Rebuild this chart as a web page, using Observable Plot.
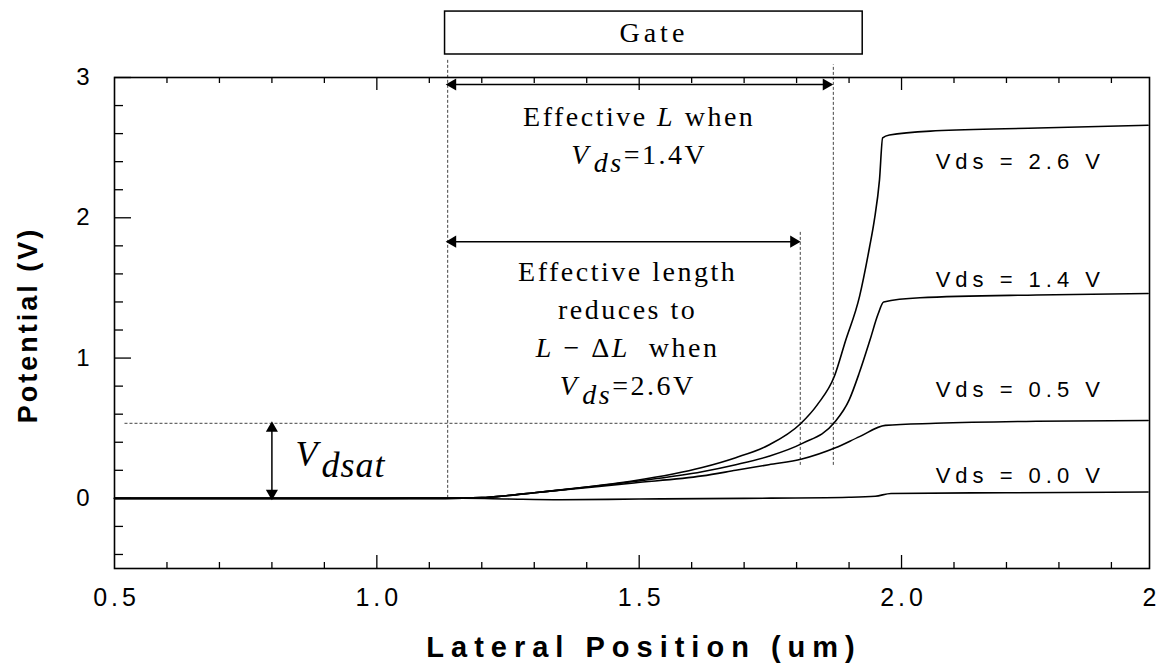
<!DOCTYPE html>
<html>
<head>
<meta charset="utf-8">
<script src="https://cdn.jsdelivr.net/npm/d3@7"></script>
<script src="https://cdn.jsdelivr.net/npm/@observablehq/plot@0.6"></script>
<style>
  html, body { margin: 0; padding: 0; background: #fff; }
  #chart { width: 1160px; height: 666px; overflow: hidden; }
  #chart svg { display: block; }
</style>
</head>
<body>
<div id="chart"></div>
<script>
// ---------------- data ----------------
const seriesNames = ["Vds = 0.0 V", "Vds = 0.5 V", "Vds = 1.4 V", "Vds = 2.6 V"];

const vds00X = [0.5, 1.0, 1.13, 1.25, 1.35, 1.5, 1.7, 1.9, 1.95, 1.98, 2.2, 2.47];
const vds00Y = [0, 0, 0.003, -0.005, -0.01, -0.005, 0.0, 0.008, 0.015, 0.035, 0.04, 0.045];

const vds05X = [0.5, 1.13, 1.2, 1.25, 1.3, 1.364, 1.49, 1.62, 1.684, 1.747, 1.81, 1.874, 1.92, 1.969, 2.065, 2.257, 2.47];
const vds05Y = [0, 0, 0.005, 0.02, 0.04, 0.064, 0.11, 0.16, 0.20, 0.24, 0.28, 0.36, 0.44, 0.52, 0.535, 0.55, 0.555];

const vds14X = [0.5, 1.13, 1.2, 1.25, 1.3, 1.364, 1.49, 1.62, 1.684, 1.747, 1.81, 1.872, 1.9, 1.92, 1.94, 1.955, 1.966, 2.035, 2.257, 2.47];
const vds14Y = [0, 0, 0.005, 0.02, 0.04, 0.065, 0.12, 0.19, 0.24, 0.30, 0.39, 0.54, 0.70, 0.90, 1.13, 1.31, 1.40, 1.43, 1.45, 1.46];

const vds26X = [0.5, 1.13, 1.2, 1.25, 1.3, 1.364, 1.49, 1.62, 1.684, 1.747, 1.807, 1.84, 1.872, 1.893, 1.92, 1.939, 1.948, 1.958, 1.964, 1.977, 2.065, 2.26, 2.47];
const vds26Y = [0, 0, 0.005, 0.02, 0.04, 0.066, 0.125, 0.22, 0.29, 0.38, 0.53, 0.67, 0.87, 1.12, 1.44, 1.79, 1.98, 2.27, 2.57, 2.59, 2.62, 2.64, 2.66];

const labelX = [2.065, 2.065, 2.065, 2.065];
const labelY = [0.157, 0.77, 1.554, 2.395];

const xTickValues = [0.5, 1.0, 1.5, 2.0, 2.5];
const xTickLabels = ["0.5", "1.0", "1.5", "2.0", "2.5"];
const xMajorTicks = [1.0, 1.5, 2.0];
const xMinorTicks = [0.6, 0.7, 0.8, 0.9, 1.1, 1.2, 1.3, 1.4, 1.6, 1.7, 1.8, 1.9, 2.1, 2.2, 2.3, 2.4];
const yTickValues = [0, 1, 2, 3];
const yTickLabels = ["0", "1", "2", "3"];
const yMinorTicks = [-0.4, -0.2, 0.2, 0.4, 0.6, 0.8, 1.2, 1.4, 1.6, 1.8, 2.2, 2.4, 2.6, 2.8];

// gate box
const gateX1 = [1.13];
const gateX2 = [1.926];
const gateY1 = [3.164];
const gateY2 = [3.47];
const gateText = ["Gate"];

// dashed guide lines
const guideVX = [1.135, 1.870, 1.807];
const guideVY1 = [0, 0.235, 0.235];
const guideVY2 = [3.13, 3.09, 1.91];
const guideHY = [0.535];
const guideHX1 = [0.52];
const guideHX2 = [1.96];

// horizontal double arrows
const arrowY = [2.95, 1.83];
const arrowX1 = [1.135, 1.135];
const arrowX2 = [1.866, 1.804];
// vertical double arrow (Vdsat)
const vArrowX = [0.80];
const vArrowY1 = [0];
const vArrowY2 = [0.535];

// annotation texts (markup: *italic*, _italic subscript_)
const annText = ["Effective *L* when", "*V*_ds_=1.4V", "Effective length", "reduces to", "*L* − Δ*L*  when", "*V*_ds_=2.6V"];
const annX = [1.50, 1.50, 1.478, 1.478, 1.478, 1.478];
const annY = [2.72, 2.45, 1.61, 1.34, 1.07, 0.80];
const vdsatText = ["*V*_dsat_"];
const vdsatX = [0.845];
const vdsatY = [0.31];

const xTitle = ["Lateral Position (um)"];
const yTitle = ["Potential (V)"];

// ---------------- build ----------------
const curveRows = [];
[[vds00X, vds00Y], [vds05X, vds05Y], [vds14X, vds14Y], [vds26X, vds26Y]].forEach(([xs, ys], k) => {
  xs.forEach((x, i) => curveRows.push({series: seriesNames[k], x, y: ys[i]}));
});

const W = 1160, H = 666;
const mL = 114, mR = 11, mT = 77, mB = 98;
const FW = W - mL - mR, FH = H - mT - mB;

const SERIF = "'Liberation Serif', 'Times New Roman', Times, serif";
const SANS = "'Liberation Sans', Arial, Helvetica, sans-serif";

const plot = Plot.plot({
  width: W,
  height: H,
  marginLeft: mL,
  marginRight: mR,
  marginTop: mT,
  marginBottom: mB,
  x: {domain: [0.5, 2.4726], axis: null},
  y: {domain: [-0.5, 3], axis: null},
  style: {background: "#fff", color: "#000", fontFamily: SANS},
  marks: [
    // dashed guides
    Plot.ruleX(guideVX, {x: d => d, y1: (d, i) => guideVY1[i], y2: (d, i) => guideVY2[i], stroke: "#444", strokeWidth: 1, strokeDasharray: "3,2"}),
    Plot.ruleY(guideHY, {y: d => d, x1: (d, i) => guideHX1[i], x2: (d, i) => guideHX2[i], stroke: "#444", strokeWidth: 1, strokeDasharray: "3,2"}),
    // curves
    Plot.line(curveRows, {x: "x", y: "y", z: "series", stroke: "#000", strokeWidth: 1.6, curve: "monotone-x"}),
    // frame and ticks
    Plot.frame({stroke: "#000", strokeWidth: 1.6}),
    Plot.ruleX(xMinorTicks, {x: d => d, insetTop: FH - 6, stroke: "#000", strokeWidth: 1.3}),
    Plot.ruleX(xMajorTicks, {x: d => d, insetTop: FH - 13, stroke: "#000", strokeWidth: 1.3}),
    Plot.ruleX(xMinorTicks, {x: d => d, insetBottom: FH - 6, stroke: "#000", strokeWidth: 1.3}),
    Plot.ruleX(xMajorTicks, {x: d => d, insetBottom: FH - 13, stroke: "#000", strokeWidth: 1.3}),
    Plot.ruleY(yMinorTicks, {y: d => d, insetRight: FW - 9, stroke: "#000", strokeWidth: 1.3}),
    Plot.ruleY(yTickValues, {y: d => d, insetRight: FW - 17, stroke: "#000", strokeWidth: 1.3}),
    // tick labels
    Plot.text(xTickValues, {x: d => d, text: (d, i) => xTickLabels[i], frameAnchor: "bottom", lineAnchor: "middle", textAnchor: "middle", dy: 29, dx: 2, fontSize: 25, fontFamily: SANS, fill: "#000"}),
    Plot.text(yTickValues, {y: d => d, text: (d, i) => yTickLabels[i], frameAnchor: "left", lineAnchor: "middle", dx: -25, textAnchor: "end", fontSize: 24, fontFamily: SANS, fill: "#000"}),
    // axis titles
    Plot.text(xTitle, {frameAnchor: "bottom", lineAnchor: "middle", textAnchor: "middle", dy: 79, dx: 12, fontSize: 29, fontWeight: "bold", fontFamily: SANS, fill: "#000"}),
    Plot.text(yTitle, {frameAnchor: "left", lineAnchor: "middle", textAnchor: "middle", dx: -86, dy: 2, rotate: -90, fontSize: 27, fontWeight: "bold", fontFamily: SANS, fill: "#000"}),
    // gate box
    Plot.rect(gateText, {x1: (d, i) => gateX1[i], x2: (d, i) => gateX2[i], y1: (d, i) => gateY1[i], y2: (d, i) => gateY2[i], fill: "none", stroke: "#000", strokeWidth: 1.5}),
    Plot.text(gateText, {x: (d, i) => (gateX1[i] + gateX2[i]) / 2, y: (d, i) => (gateY1[i] + gateY2[i]) / 2, fontSize: 28, fontFamily: SERIF, fill: "#000"}),
    // horizontal double arrows
    Plot.link(arrowY, {x1: (d, i) => arrowX1[i], x2: (d, i) => arrowX2[i], y1: d => d, y2: d => d, stroke: "#000", strokeWidth: 1.5}),
    Plot.dot(arrowY, {x: (d, i) => arrowX1[i], y: d => d, symbol: "triangle", rotate: -90, r: 4.5, dx: 5, fill: "#000", stroke: "none"}),
    Plot.dot(arrowY, {x: (d, i) => arrowX2[i], y: d => d, symbol: "triangle", rotate: 90, r: 4.5, dx: -5, fill: "#000", stroke: "none"}),
    // vertical double arrow
    Plot.link(vArrowX, {x1: d => d, x2: d => d, y1: (d, i) => vArrowY1[i], y2: (d, i) => vArrowY2[i], stroke: "#000", strokeWidth: 1.5}),
    Plot.dot(vArrowX, {x: d => d, y: (d, i) => vArrowY2[i], symbol: "triangle", rotate: 0, r: 4.5, dy: 5, fill: "#000", stroke: "none"}),
    Plot.dot(vArrowX, {x: d => d, y: (d, i) => vArrowY1[i], symbol: "triangle", rotate: 180, r: 4.5, dy: -5, fill: "#000", stroke: "none"}),
    // annotations
    Plot.text(annText, {x: (d, i) => annX[i], y: (d, i) => annY[i], fontSize: 28, fontFamily: SERIF, fill: "#000"}),
    Plot.text(vdsatText, {x: (d, i) => vdsatX[i], y: (d, i) => vdsatY[i], textAnchor: "start", fontSize: 36, fontFamily: SERIF, fill: "#000"}),
    // series labels
    Plot.text(seriesNames, {x: (d, i) => labelX[i], y: (d, i) => labelY[i], textAnchor: "start", fontSize: 22, fontFamily: SANS, fill: "#000"})
  ]
});

document.getElementById("chart").appendChild(plot);

// ---------------- text styling (letter spacing, italic, subscripts) ----------------
const spacingFor = new Map();
xTickLabels.forEach(s => spacingFor.set(s, 4));
seriesNames.forEach(s => spacingFor.set(s, 5));
annText.forEach(s => spacingFor.set(s, 2.5));
vdsatText.forEach(s => spacingFor.set(s, 1));
gateText.forEach(s => spacingFor.set(s, 4));
xTitle.forEach(s => spacingFor.set(s, 7));
yTitle.forEach(s => spacingFor.set(s, 3));
const richSet = new Set([...annText, ...vdsatText]);

function renderRich(el, s) {
  const parts = s.split(/(\*[^*]+\*|_[^_]+_)/).filter(p => p.length);
  el.textContent = "";
  let shifted = false;
  for (const p of parts) {
    const ts = d3.select(el).append("tspan");
    if (p[0] === "_") {
      ts.attr("font-style", "italic").attr("dy", "0.3em").attr("dx", 3).text(p.slice(1, -1));
      shifted = true;
      continue;
    }
    if (p[0] === "*") ts.attr("font-style", "italic").text(p.slice(1, -1));
    else ts.text(p);
    if (shifted) { ts.attr("dy", "-0.3em"); shifted = false; }
  }
}

d3.select(plot).selectAll("text").each(function () {
  const s = this.textContent;
  if (spacingFor.has(s)) d3.select(this).attr("letter-spacing", spacingFor.get(s));
  if (richSet.has(s)) renderRich(this, s);
});
</script>
</body>
</html>
